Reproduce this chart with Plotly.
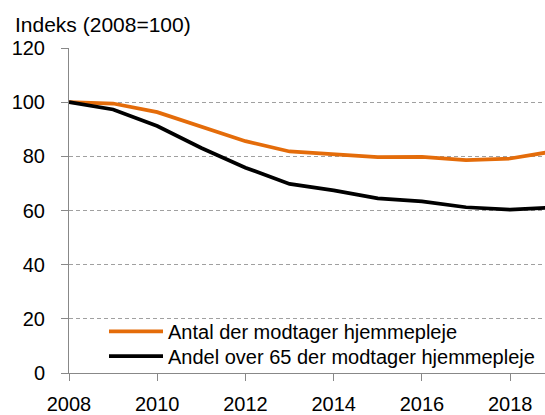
import plotly.graph_objects as go

years = list(range(2008, 2020))
antal = [100, 99.5, 96.3, 91.0, 85.6, 81.8, 80.9, 79.7, 79.8, 78.6, 79.2, 81.9]
andel = [100, 97.3, 91.2, 83.1, 75.8, 69.8, 67.4, 64.5, 63.4, 61.2, 60.3, 61.1]
names = ["Antal der modtager hjemmepleje", "Andel over 65 der modtager hjemmepleje"]
colors = ["#E46C0A", "#000000"]
x_ticks = [2008, 2010, 2012, 2014, 2016, 2018]
y_ticks = [0, 20, 40, 60, 80, 100, 120]
title_text = "Indeks (2008=100)"

FONT = "Liberation Sans, Arial, sans-serif"
PH = 328.3

fig = go.Figure()
for i, (name, vals, col) in enumerate(zip(names, [antal, andel], colors)):
    fig.add_trace(go.Scatter(x=years, y=vals, mode="lines", name=name,
                             legend="legend" if i == 0 else "legend2",
                             line=dict(color=col, width=3.75)))

leg_common = dict(x=(104-69)/476, xanchor="left", yanchor="middle",
                  bgcolor="rgba(0,0,0,0)", borderwidth=0, itemwidth=54,
                  font=dict(family=FONT, size=20, color="#000000"))

fig.update_layout(
    width=545, height=415,
    margin=dict(l=69, r=0, t=48, b=39),
    paper_bgcolor="white", plot_bgcolor="white",
    font=dict(family=FONT, size=20, color="#000000"),
    title=dict(text=title_text, x=15/545, xanchor="left", xref="container",
               y=1-25/415, yanchor="middle", yref="container",
               font=dict(family=FONT, size=21, color="#000000")),
    showlegend=True,
    legend=dict(y=(376-334)/PH, **leg_common),
    legend2=dict(y=(376-359)/PH, **leg_common),
    xaxis=dict(range=[2008, 2018.79], tickvals=x_ticks, ticktext=[str(v) for v in x_ticks],
               showgrid=False, zeroline=False, showline=True, linecolor="#888888", linewidth=1,
               ticks="outside", ticklen=7, tickcolor="#888888", tickwidth=1,
               ticklabelstandoff=6),
    yaxis=dict(range=[0, 120], tickvals=y_ticks,
               showgrid=True, gridcolor="#a0a0a0", gridwidth=1, griddash="4px,3px",
               zeroline=False, showline=True, linecolor="#888888", linewidth=1,
               ticks="outside", ticklen=7, tickcolor="#888888", tickwidth=1,
               ticklabelstandoff=12),
)

fig.write_html("out.html",
               config={"displayModeBar": False},
               post_script="document.body.style.margin='0px';document.body.style.padding='0px';")
